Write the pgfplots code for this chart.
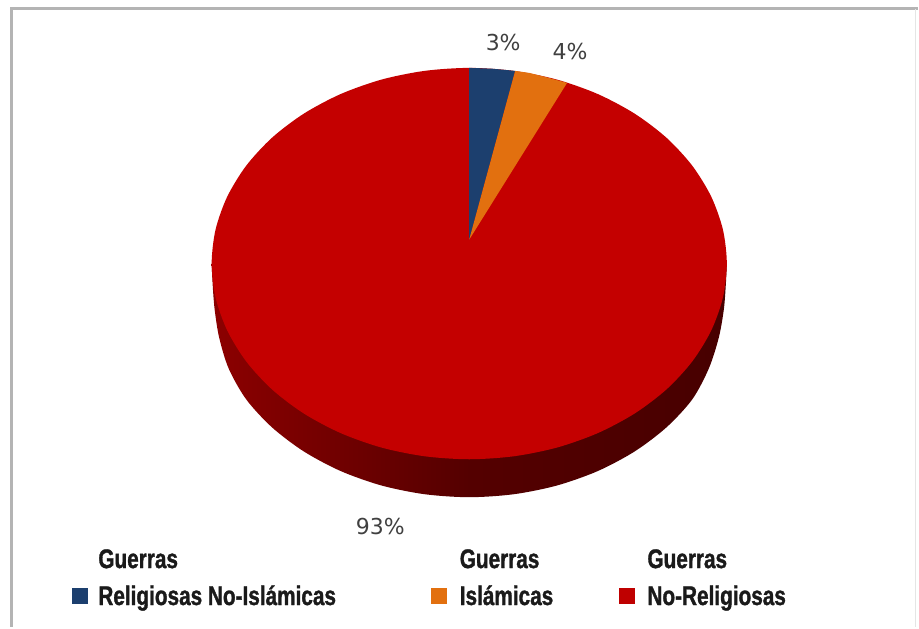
\documentclass[border=0pt]{standalone}
\usepackage{fontspec}
\setmainfont{DejaVu Sans}
\newfontfamily\legfont[FakeStretch=0.77,BoldFeatures={FakeBold=1.2}]{Liberation Sans}
\usepackage{pgfplots}
\pgfplotsset{compat=1.18}
\definecolor{pieblue}{HTML}{1C3F6E}
\definecolor{pieorange}{HTML}{E2700F}
\definecolor{piered}{HTML}{C40000}
\definecolor{txt}{HTML}{404040}
\definecolor{legtxt}{HTML}{1A1A1A}
\definecolor{framegray}{HTML}{B4B4B4}

\begin{document}
\begin{tikzpicture}
\begin{axis}[
    width=919pt, height=628pt, scale only axis,
    xmin=0, xmax=919, ymin=0, ymax=628,
    y dir=reverse,
    hide axis,
    clip=false,
    every node/.append style={inner sep=0pt},
]
% keep the whole canvas in the bounding box
\path (axis cs:0,0) rectangle (axis cs:919,628);

% frame
\addplot[framegray, line width=3pt, no marks] coordinates {(12,628) (12,9) (919,9)};
\addplot[framegray!35, line width=1.5pt, no marks] coordinates {(917,9) (917,628)};

% side of the pie
\addplot[smooth, draw=none, left color=red!55!black, right color=red!28!black, middle color=red!33!black, no marks] coordinates {
    (212,264) (213,285) (215,310) (219.5,338) (229,369) (246.6,400) (272.4,428) (304.2,452.1) (341,471.7) (381.8,486.2)
    (425.2,495) (470,498) (514.8,495) (558.2,486.2) (599,471.7) (635.8,452.1) (667.6,428) (693.4,400)
    (710,369) (720,338) (725,310) (727,285) (728,264)
} -- cycle;

% No-Religiosas 93%
\addplot[smooth cycle, draw=none, fill=piered, no marks] coordinates {
    (470,68) (514.8,71) (558.2,79.8) (599,94.3) (635.8,113.9) (667.6,138) (693.4,166) (712.4,197) (724.1,230)
    (728,264) (724.1,298) (712.4,331) (693.4,362) (667.6,390) (635.8,414.1) (599,433.7) (558.2,448.2) (514.8,457)
    (470,460) (425.2,457) (381.8,448.2) (341,433.7) (304.2,414.1) (272.4,390) (246.6,362) (227.6,331) (215.9,298)
    (212,264) (215.9,230) (227.6,197) (246.6,166) (272.4,138) (304.2,113.9) (341,94.3) (381.8,79.8) (425.2,71)
};
% Religiosas No-Islamicas 3%
\addplot[draw=none, fill=pieblue, no marks] coordinates {
    (470,240) (470,68) (493,68.8) (516,71)
} -- cycle;
% Islamicas 4%
\addplot[draw=none, fill=pieorange, no marks] coordinates {
    (470,240) (516,71) (530,73) (544,76.5) (568,83)
} -- cycle;

% legend squares
\addplot[only marks, mark=square*, mark size=7.5pt, pieblue, mark options={draw=none}] coordinates {(80,597)};
\addplot[only marks, mark=square*, mark size=7.5pt, pieorange, mark options={draw=none}] coordinates {(439,597)};
\addplot[only marks, mark=square*, mark size=7.5pt, red!75!black, mark options={draw=none}] coordinates {(628,597)};

% value labels
\node[txt, font=\fontsize{22}{24}\selectfont] at (axis cs:504,43) {3\%};
\node[txt, font=\fontsize{22}{24}\selectfont] at (axis cs:571,52) {4\%};
\node[txt, font=\fontsize{22}{24}\selectfont] at (axis cs:381,527) {93\%};

% legend text
\tikzset{leg/.style={anchor=base west, legtxt, font=\legfont\bfseries\fontsize{27}{29}\selectfont}}
\node[leg] at (axis cs:95,569) {Guerras};
\node[leg] at (axis cs:95,606) {Religiosas No-Islámicas};
\node[leg] at (axis cs:457,569) {Guerras};
\node[leg] at (axis cs:457,606) {Islámicas};
\node[leg] at (axis cs:645,569) {Guerras};
\node[leg] at (axis cs:645,606) {No-Religiosas};
\end{axis}
\end{tikzpicture}
\end{document}
